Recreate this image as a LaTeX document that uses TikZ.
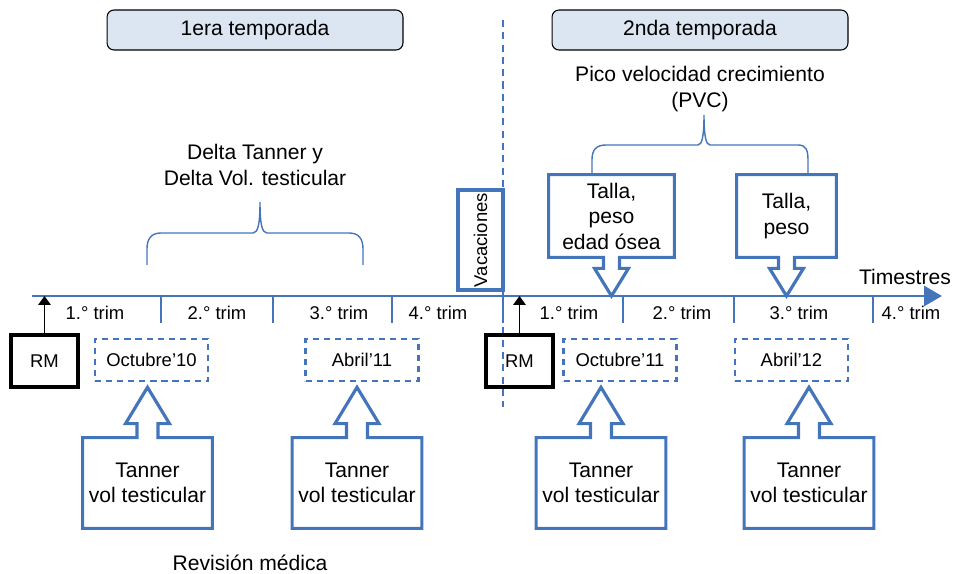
\documentclass[tikz,border=0pt]{standalone}
\usepackage{fontspec}
\setmainfont{Liberation Sans}
\usetikzlibrary{arrows.meta, calc}
\definecolor{xanh}{RGB}{68,117,187}
\definecolor{nenxanh}{RGB}{220,230,242}

\begin{document}
\begin{tikzpicture}[x=0.02cm, y=-0.02cm, line join=miter,
	every node/.style={font=\fontsize{12}{14.5}\selectfont, align=center, inner sep=1pt},
	nho/.style={font=\fontsize{10.5}{12}\selectfont},
	mua/.style={draw, line width=0.6pt, rounded corners=4pt, fill=nenxanh, minimum width=5.92cm, minimum height=0.8cm},
	rmkhung/.style={nho, draw, line width=2pt, minimum width=1.34cm, minimum height=1.04cm},
	ngay/.style={nho, draw=xanh, line width=1.5pt, dash pattern=on 3.5pt off 2.8pt, minimum width=2.26cm, minimum height=0.84cm},
	khung/.style={minimum width=2.58cm, minimum height=1.8cm},
	vien/.style={draw=xanh, line width=1.8pt},
	ngoac/.style={xanh, line width=0.8pt}]
	\useasboundingbox (0,0) rectangle (954,574);

	% Hai mùa giải
	\node[mua] (mua1) at (255,30) {1era temporada};
	\node[mua] (mua2) at (700,30) {2nda temporada};
	\coordinate (ngan1) at (503,20);
	\coordinate (ngan2) at (503,407);
	\draw[xanh, line width=0.8pt, dash pattern=on 4pt off 3pt] (ngan1) -- (ngan2);

	% Trục thời gian
	\coordinate (goc) at (32,296);
	\coordinate (dinh) at (942,296);
	\draw[xanh, line width=1.7pt, -{Triangle[length=0.36cm, width=0.4cm]}] (goc) -- (dinh);
	\foreach \x in {161,273,392,503,623,734,873}
		\draw[xanh, line width=1.5pt] (\x,296) -- (\x,323);
	\foreach \x/\t [count=\i] in {95/1,217/2,339/3,438/4,569/1,682/2,799/3,911/4}
		\node[nho] (trim\i) at (\x,313) {\t.° trim};
	\node (timestres) at (905,277) {Timestres};

	% Vacaciones
	\node[nho, draw=xanh, line width=2pt, rotate=90, minimum width=2cm, minimum height=0.9cm] (vac) at (480.5,240) {Vacaciones};

	% Revisión médica
	\node[rmkhung] (rm1) at (44.5,361) {RM};
	\node[rmkhung] (rm2) at (519.5,361) {RM};
	\foreach \r in {rm1, rm2}
		\draw[line width=0.8pt, -{Triangle[length=5pt, width=7pt]}] (\r.north) -- (\r.north |- goc);

	% Fechas
	\node[ngay] (oct10) at (151.5,360) {Octubre’10};
	\node[ngay] (abr11) at (362,360) {Abril’11};
	\node[ngay] (oct11) at (620,360) {Octubre’11};
	\node[ngay] (abr12) at (791.5,360) {Abril’12};

	% Tanner, vol testicular
	\node[khung] (tan1) at (147.5,483) {Tanner\\vol testicular};
	\node[khung] (tan2) at (357,483) {Tanner\\vol testicular};
	\node[khung] (tan3) at (601,483) {Tanner\\vol testicular};
	\node[khung] (tan4) at (809,483) {Tanner\\vol testicular};
	\foreach \t/\d in {tan1/oct10, tan2/abr11, tan3/oct11, tan4/abr12}
		\draw[vien] (\t.north west) -- ($(\t.north)+(-10.5,0)$) -- ++(0,-14) -- ++(-11.5,0)
			-- ($(\t.north |- \d.south)+(0,5)$) -- ($(\t.north)+(22,-14)$) -- ++(-11.5,0) -- ++(0,14)
			-- (\t.north east) -- (\t.south east) -- (\t.south west) -- cycle;
	\node (revision) at (250,563) {Revisión médica};

	% Delta Tanner
	\node (delta) at (255,165) {Delta Tanner y\\Delta Vol. testicular};
	\coordinate (d1) at (147,265);
	\coordinate (d2) at (363,265);
	\coordinate (dt) at (260,202);
	\draw[ngoac] (d1) -- (147,249) .. controls (147,239) and (151,233) .. (161,233) -- (253,233)
		.. controls (258,233) and (260,224) .. (dt) .. controls (260,224) and (262,233) .. (267,233)
		-- (349,233) .. controls (359,233) and (363,239) .. (363,249) -- (d2);

	% PVC
	\node (pvc) at (700,89) {Pico velocidad crecimiento\\(PVC)};
	\node[minimum width=2.5cm, minimum height=1.64cm] (talla1) at (611.5,216) {Talla,\\peso\\edad ósea};
	\node[minimum width=1.98cm, minimum height=1.64cm] (talla2) at (786.5,216) {Talla,\\peso};
	\foreach \b in {talla1, talla2}
		\draw[vien] (\b.south west) -- ($(\b.south)+(-8,0)$) -- ++(0,11) -- ++(-9,0)
			-- (\b.south |- goc) -- ($(\b.south)+(17,11)$) -- ++(-9,0) -- ++(0,-11)
			-- (\b.south east) -- (\b.north east) -- (\b.north west) -- cycle;
	\coordinate (p1) at (592,175);
	\coordinate (p2) at (808,175);
	\coordinate (pt) at (704,115);
	\draw[ngoac] (p1) -- (592,160) .. controls (592,150) and (596,145) .. (606,145) -- (698,145)
		.. controls (702,145) and (704,136) .. (pt) .. controls (704,136) and (706,145) .. (710,145)
		-- (798,145) .. controls (806,145) and (808,150) .. (808,160) -- (p2);
\end{tikzpicture}
\end{document}
